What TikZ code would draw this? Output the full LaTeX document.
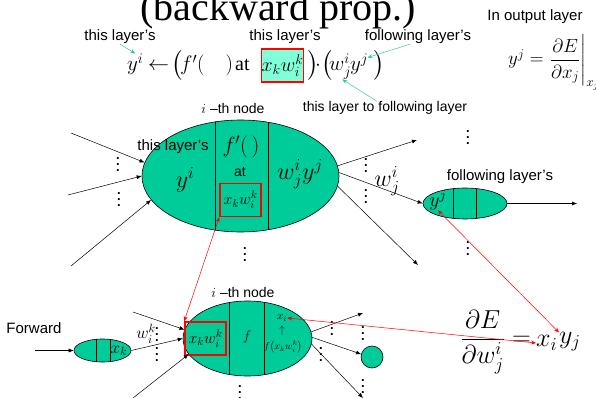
\RequirePackage{fix-cm}
\documentclass[tikz,border=0pt]{standalone}
\usepackage{amsmath}
\usepackage{fontspec}
\newfontfamily\sansf{Liberation Sans}
\newfontfamily\serf{Liberation Serif}
\usetikzlibrary{shapes.geometric,arrows.meta,calc}
\definecolor{nodegreen}{HTML}{00CC99}
\definecolor{aqua}{HTML}{80FFD8}
\definecolor{tealline}{HTML}{33CC99}
\newcommand{\fs}[1]{\fontsize{#1}{#1}\selectfont}
\newcommand{\vdd}{\vbox{\baselineskip6pt\lineskiplimit0pt\hbox{.}\hbox{.}\hbox{.}}}
\tikzset{
  cell/.style={ellipse, draw, fill=nodegreen, inner sep=0pt, line width=0.6pt},
  divider/.style={line width=0.6pt},
  lbl/.style={font=\sansf\fs{15}, inner sep=0pt},
  blk/.style={-{Latex[length=5pt,width=4pt]}, line width=0.5pt},
  redar/.style={{Stealth[length=5pt,width=4pt]}-{Stealth[length=5pt,width=4pt]}, red, line width=0.5pt},
  tealar/.style={-{Stealth[length=5pt,width=4pt]}, tealline, line width=0.5pt},
  dts/.style={inner sep=0pt, font=\sansf\bfseries\fs{13}},
  redbox/.style={draw=red, line width=1.6pt, inner sep=0pt, minimum width=41pt, minimum height=33pt},
  m/.style={inner sep=0pt},
  eq/.style={inner sep=0pt, anchor=base west, font=\fs{21}},
}
\begin{document}
\begin{tikzpicture}[x=1pt,y=-1pt]
\useasboundingbox (0,0) rectangle (596,398);
\clip (0,0) rectangle (596,398);

% title
\node[m, anchor=base, font=\serf\fs{40}] (title) at (278,21) {(backward prop.)};

% top equation
\node[eq] (ey) at (127,71) {$y^i$};
\node[eq] (earr) at (148,71) {$\leftarrow$};
\node[eq, font=\fs{24}] (ep0) at (171,71) {$\bigl($};
\node[eq] (ef) at (180,71) {$f'(\quad)$};
\node[eq, font=\serf\fs{20}] (eat) at (235,71) {at};
\node[redbox, fill=aqua] (rb0) at (282.5,65.5) {\fs{20}$x_k w_i^k$};
\node[eq, font=\fs{24}] (ep1) at (307,71) {$\bigr)$};
\node[eq] (edot) at (315,71) {$\cdot$};
\node[eq, font=\fs{24}] (ep3) at (321,71) {$\bigl($};
\node[eq] (ew) at (329,71) {$w^i_j$};
\node[eq] (eyj) at (350,71) {$y^j$};
\node[eq, font=\fs{24}] (ep2) at (373,71) {$\bigr)$};

\node[lbl] (l1) at (120,37) {this layer’s};
\node[lbl] (l2) at (285,37) {this layer’s};
\node[lbl] (l3) at (418,37) {following layer’s};
\node[lbl, font=\sansf\fs{14}] (l4) at (385,108) {this layer to following layer};
\draw[tealar] (l1.south) -- (ey.north);
\draw[tealar] ($(l3.south)+(-8,0)$) -- ($(eyj.north east)+(-1,4)$);
\draw[tealar] ($(l4.north)+(-8,0)$) -- ($(ew.south)+(2,0)$);

% output layer
\node[lbl] (l5) at (535,17) {In output layer};
\node[m, anchor=base west, font=\fs{19}] (outeq) at (508,65) {$y^j=\left.\dfrac{\partial E}{\partial x_j}\right|_{x_j}$};

% big node
\node[cell, minimum width=197pt, minimum height=112pt] (big) at (240.5,176) {};
\begin{scope}
  \clip (big.center) ellipse [x radius=98.5pt, y radius=56pt];
  \draw[divider] (215,100) -- (215,250) (268,100) -- (268,250);
\end{scope}
\node[m, font=\sansf\fs{14}] (nl1) at (233,108) {$i$ –th node};
\node[lbl] (tl) at (173,147) {this layer’s};
\node[m, font=\fs{24}] (byi) at (185,180) {$y^i$};
\node[m, font=\fs{22}] (bf) at (241,147) {$f'(\,)$};
\node[m, font=\sansf\fs{14}] (bat) at (240,172) {at};
\node[redbox] (rb1) at (240.5,200) {\fs{16}$x_k w_i^k$};
\node[m, font=\fs{24}] (bwy) at (300,174) {$w_j^i y^j$};

% arrows into big node
\coordinate (i1) at (71,133);
\coordinate (i2) at (68,195);
\coordinate (i3) at (71,266);
\draw[blk] (i1) -- (big.172);
\draw[blk] (i2) -- (big.180);
\draw[blk] (i3) -- (big.195);
\node[dts] (d1) at (118,165) {\vdd};
\node[dts] (d2) at (119,200) {\vdd};

% following node
\node[cell, minimum width=84pt, minimum height=31pt] (fol) at (465,203.5) {};
\begin{scope}
  \clip (fol.center) ellipse [x radius=42pt, y radius=15.5pt];
  \draw[divider] (453,180) -- (453,230) (476,180) -- (476,230);
\end{scope}
\node[m, font=\fs{20}] (fy) at (438,200) {$y^j$};
\node[lbl] (l6) at (500,177) {following layer’s};
\node[m, font=\fs{24}] (wl) at (387,181) {$w_j^i$};

\coordinate (o1) at (417,140);
\coordinate (o3) at (418,265);
\coordinate (o4) at (577,203.5);
\draw[blk] (big.6) -- (o1);
\draw[blk] (big.2) -- (fol.west);
\draw[blk] (big.-6) -- (o3);
\draw[blk] (fol.east) -- (o4);
\node[dts] (d3) at (366,166) {\vdd};
\node[dts] (d4) at (366,197) {\vdd};
\node[dts] (d5) at (468,138) {\vdd};
\node[dts] (d6) at (468,249) {\vdd};
\node[dts] (d7) at (245,255) {\vdd};

% bottom (forward)
\node[lbl] (fw) at (34,328) {Forward};
\node[cell, minimum width=57pt, minimum height=23pt] (fwd) at (102.5,350.5) {};
\begin{scope}
  \clip (fwd.center) ellipse [x radius=28.5pt, y radius=11.5pt];
  \draw[divider] (96,330) -- (96,370) (110,330) -- (110,370);
\end{scope}
\node[m, font=\fs{17}] (fxk) at (119,351) {$x_k$};
\node[cell, minimum width=129pt, minimum height=75pt] (bot) at (247.5,338.5) {};
\begin{scope}
  \clip (bot.center) ellipse [x radius=64.5pt, y radius=37.5pt];
  \draw[divider] (229,295) -- (229,380) (264,295) -- (264,380);
\end{scope}
\node[m, font=\sansf\fs{14}] (nl2) at (243,292) {$i$ –th node};
\node[redbox] (rb2) at (205.5,338.5) {\fs{16}$x_k w_i^k$};
\node[m, font=\fs{14}] (bfn) at (247,337) {$f$};
\node[m, font=\fs{11}] (bxi) at (282,318) {$x_i$};
\node[m, font=\fs{11}] (bup) at (282,331) {$\uparrow$};
\node[m, font=\fs{10}] (bfx) at (283,347) {$f\bigl(x_k w_i^k\bigr)$};
\node[cell, circle, minimum size=22pt] (circ) at (372,357) {};

\node[dts] (d8) at (157,335) {\vdd};
\node[dts] (d9) at (157,355) {\vdd};
\node[dts] (d10) at (332,329) {\vdd};
\node[dts] (d11) at (321,355) {\vdd};
\node[dts] (d12) at (363,334) {\vdd};
\node[dts] (d13) at (363,387) {\vdd};
\node[dts] (d14) at (240,393) {\vdd};
\node[m, font=\fs{17}] (fwl) at (146,334) {$w_i^k$};

\coordinate (f0) at (35,350.5);
\coordinate (b1) at (133,312);
\coordinate (b2) at (133,398);
\coordinate (b3) at (363,313);
\coordinate (b4) at (363,398);
\draw[blk] (f0) -- (fwd.west);
\draw[blk] (fwd.east) -- (bot.180);
\draw[blk] (b1) -- (bot.172);
\draw[blk] (b2) -- (bot.195);
\draw[blk] (bot.6) -- (b3);
\draw[blk] (bot.1) -- (circ.165);
\draw[blk] (bot.-5) -- (b4);

% result formula
\node[m, font=\fs{26}, anchor=east] (frac) at (531,342) {$\dfrac{\partial E}{\partial w_j^i}=$};
\node[m, font=\fs{26}, anchor=west] (xi) at (536,343) {$x_i$};
\node[m, font=\fs{26}, anchor=west] (yj) at (559,342) {$y_j$};

% red links
\draw[redar] (rb1.south west) -- (rb2.north west);
\draw[redar] (fy.south) -- (yj.north west);
\draw[redar] (bxi.east) -- (xi.west);
\end{tikzpicture}
\end{document}
